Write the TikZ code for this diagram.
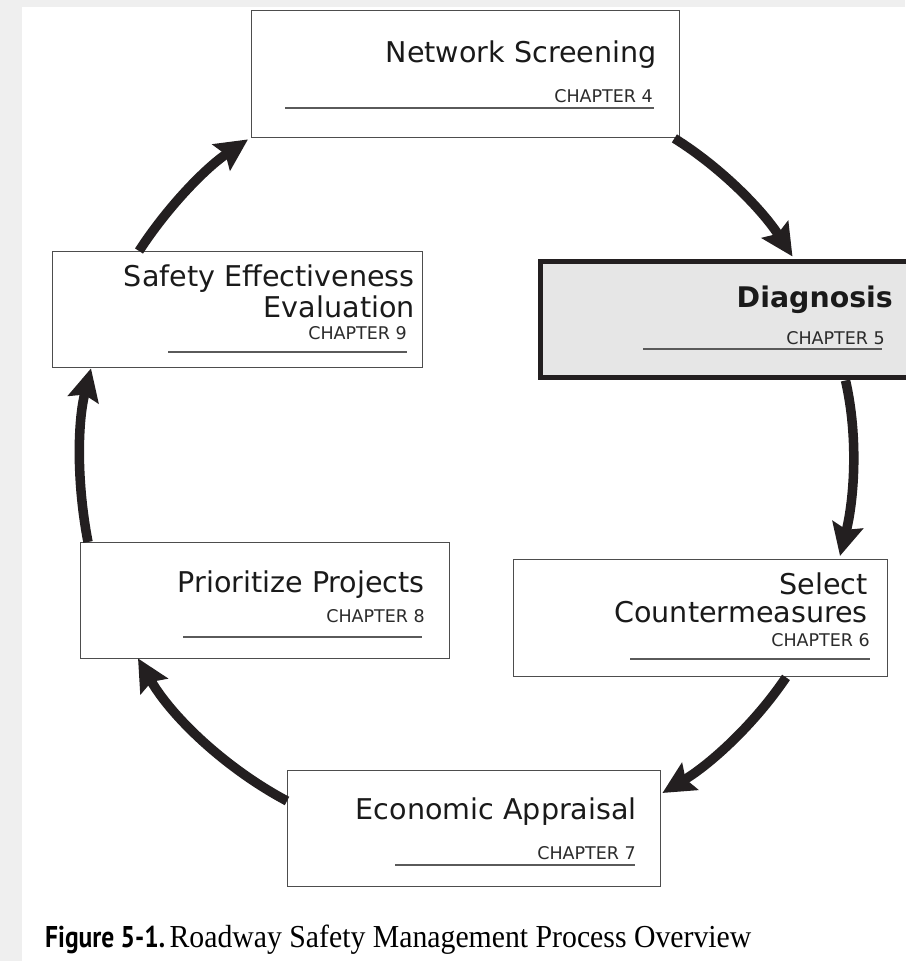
\documentclass[tikz,border=0pt]{standalone}
\usepackage{fontspec}
\usetikzlibrary{arrows.meta}
\newfontfamily\boxfont{DejaVu Sans}
\newfontfamily\capsans[FakeStretch=0.85]{PT Sans}
\newfontfamily\capserif[FakeStretch=0.93]{Liberation Serif}
\definecolor{bggray}{HTML}{EFEFEF}
\definecolor{diagfill}{HTML}{E6E6E6}
\definecolor{ink}{HTML}{1A1A1A}
\definecolor{ink2}{HTML}{2B2B2B}
\definecolor{rulegray}{HTML}{5A5A5A}
\definecolor{arrowink}{HTML}{231F20}
\definecolor{edge}{HTML}{4D4D4D}
\begin{document}
\begin{tikzpicture}[x=1pt,y=1pt,
  stagebox/.style={draw=edge, line width=1.4pt, fill=white, inner sep=0pt, anchor=north west},
  title/.style={anchor=base east, inner sep=0pt, text=ink,
    font=\boxfont\fontsize{28.6}{30}\selectfont},
  chap/.style={anchor=base east, inner sep=0pt, text=ink2,
    font=\boxfont\fontsize{17.5}{20}\selectfont},
  rule/.style={draw=rulegray, line width=1.3pt},
  flow/.style={draw=arrowink, line width=9.5pt, looseness=0.85,
    -{Stealth[length=32pt,width=31pt,inset=5pt]}}
]
\useasboundingbox (0,0) rectangle (905,961);
% page background
\fill[bggray] (0,0) rectangle (905,961);
\fill[white] (22,0) rectangle (905,954);

% stage boxes
\node[stagebox, minimum width=428pt, minimum height=127pt] (ns) at (251,951) {};
\node[stagebox, draw=arrowink, line width=5pt, fill=diagfill, minimum width=380pt, minimum height=116pt] (dg) at (537.5,701.5) {};
\node[stagebox, minimum width=374pt, minimum height=117pt] (sc) at (513,402) {};
\node[stagebox, minimum width=373pt, minimum height=116pt] (ea) at (287,191) {};
\node[stagebox, minimum width=369pt, minimum height=116pt] (pp) at (80,419) {};
\node[stagebox, minimum width=370pt, minimum height=116pt] (se) at (52,710) {};

% Network Screening
\node[title] (ns-t) at (657,898) {Network Screening};
\node[chap] (ns-c) at (653,858) {CHAPTER 4};
\draw[rule] (285,853) -- (654,853);

% Diagnosis
\node[title, font=\boxfont\bfseries\fontsize{28.4}{30}\selectfont] (dg-t) at (893,653) {Diagnosis};
\node[chap] (dg-c) at (885,616) {CHAPTER 5};
\draw[rule] (643,612) -- (882,612);

% Select Countermeasures
\node[title] (sc-t1) at (868,366) {Select};
\node[title] (sc-t2) at (868,338) {Countermeasures};
\node[chap] (sc-c) at (870,314) {CHAPTER 6};
\draw[rule] (630,302) -- (870,302);

% Economic Appraisal
\node[title] (ea-t) at (637,141) {Economic Appraisal};
\node[chap] (ea-c) at (636,101) {CHAPTER 7};
\draw[rule] (395,96) -- (635,96);

% Prioritize Projects
\node[title] (pp-t) at (425,368) {Prioritize Projects};
\node[chap] (pp-c) at (425,338) {CHAPTER 8};
\draw[rule] (183,324) -- (422,324);

% Safety Effectiveness Evaluation
\node[title] (se-t1) at (415,674) {Safety Effectiveness};
\node[title] (se-t2) at (415,643) {Evaluation};
\node[chap] (se-c) at (407,621) {CHAPTER 9};
\draw[rule] (168,609) -- (407,609);

% cycle arrows
\draw[flow] ([xshift=-6pt]ns.south east) to[out=-32, in=123] ([xshift=255pt,yshift=3pt]dg.north west);
\draw[flow] ([xshift=308pt]dg.south west) to[out=-77, in=76] ([xshift=327pt,yshift=3pt]sc.north west);
\draw[flow] ([xshift=273pt]sc.south west) to[out=-124, in=31] ([xshift=1pt,yshift=-23pt]ea.north east);
\draw[flow] ([yshift=-31pt]ea.north west) to[out=152, in=-60] ([xshift=58pt,yshift=1pt]pp.south west);
\draw[flow] ([xshift=8pt]pp.north west) to[out=101, in=256] ([xshift=39pt]se.south west);
\draw[flow] ([xshift=87pt]se.north west) to[out=57, in=214] ([xshift=-3pt,yshift=-1pt]ns.south west);

% caption
\node[anchor=base west, inner sep=0pt] (cap) at (45,13)
  {{\capsans\bfseries\fontsize{30}{32}\selectfont Figure 5-1.} {\capserif\fontsize{32}{34}\selectfont Roadway Safety Management Process Overview}};
\end{tikzpicture}
\end{document}
